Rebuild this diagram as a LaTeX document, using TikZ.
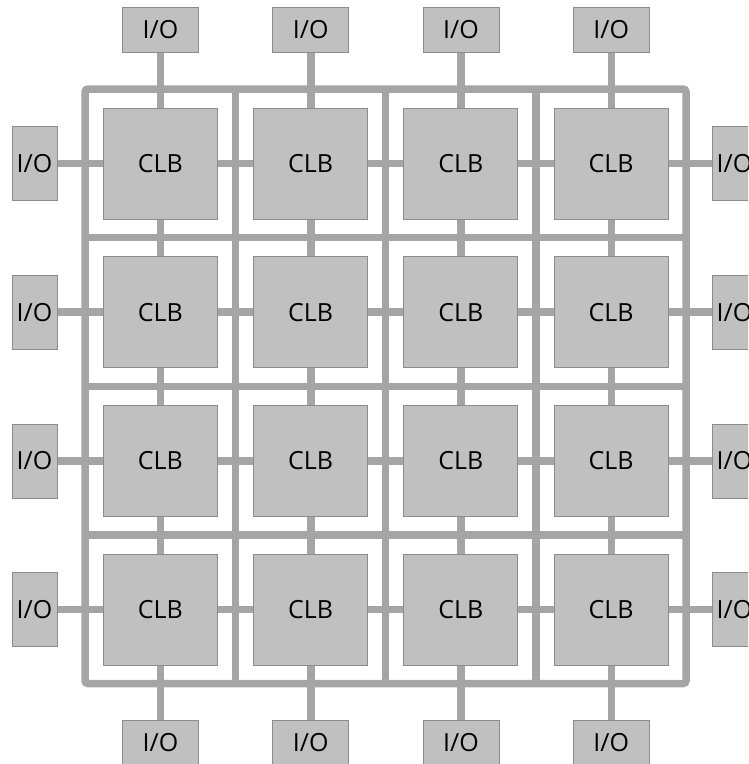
\documentclass[tikz,border=0pt]{standalone}
\usepackage{fontspec}
\setmainfont{Open Sans}
\usetikzlibrary{backgrounds}

\definecolor{wirecol}{HTML}{A5A5A5}
\definecolor{blockfill}{HTML}{C0C0C0}
\definecolor{blockline}{HTML}{8C8C8C}

\tikzset{
  block/.style={draw=blockline, fill=blockfill, line width=0.6pt, inner sep=0pt,
    font=\fontsize{25}{29}\selectfont},
  clb/.style={block, minimum width=114pt, minimum height=111pt},
  padh/.style={block, minimum width=76pt, minimum height=45pt},
  padv/.style={block, minimum width=45pt, minimum height=74pt},
  wire/.style={draw=wirecol, line width=7.5pt},
}

\begin{document}
\begin{tikzpicture}[x=1pt,y=-1pt]
    \clip (0,0) rectangle (748,764);

    % logic blocks
    \foreach \r in {0,...,3} {
        \foreach \c in {0,...,3} {
            \node[clb] (clb-\r-\c) at ({160.25+150.25*\c}, {163.5+148.7*\r}) {CLB};
          }
      }
    % pads round the edge
    \foreach \i in {0,...,3} {
        \node[padh] (io-top-\i) at ({160.5+150.25*\i}, 29.5) {I/O};
        \node[padh] (io-bot-\i) at ({160.5+150.25*\i}, 742.5) {I/O};
        \node[padv] (io-left-\i) at (34.5, {163.5+148.7*\i}) {I/O};
        \node[padv] (io-right-\i) at (734.5, {163.5+148.7*\i}) {I/O};
      }

    \begin{scope}[on background layer]
        % routing channels
        \draw[wire, rounded corners=3pt] (85,89) rectangle (686,683.6);
        \foreach \i in {1,2,3} {
            \draw[wire] ({85+150.25*\i}, 89) -- ({85+150.25*\i}, 683.6);
            \draw[wire] (85, {89+148.7*\i}) -- (686, {89+148.7*\i});
          }
        % pad to pad through the blocks
        \foreach \i in {0,...,3} {
            \draw[wire] (io-top-\i) -- (io-bot-\i);
            \draw[wire] (io-left-\i) -- (io-right-\i);
          }
    \end{scope}
\end{tikzpicture}
\end{document}
